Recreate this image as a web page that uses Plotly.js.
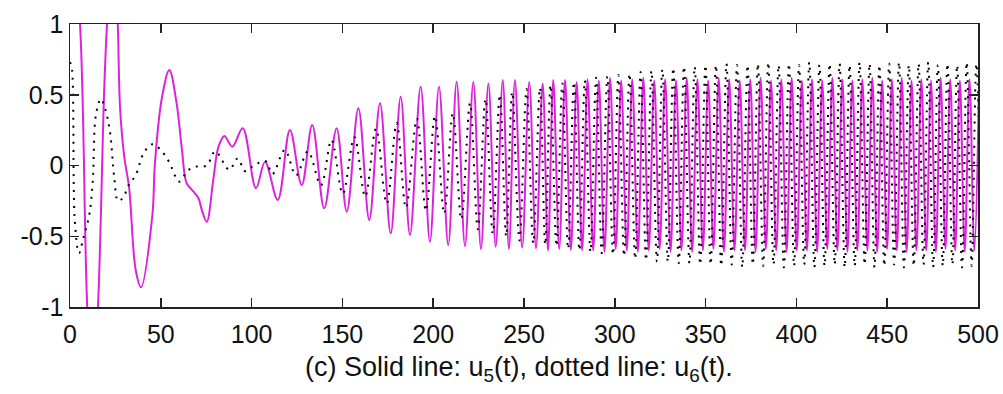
<!DOCTYPE html>
<html>
<head>
<meta charset="utf-8">
<script src="https://cdn.plot.ly/plotly-3.0.1.min.js"></script>
<style>html,body{margin:0;padding:0;background:#fff;}#chart{width:1003px;height:394px;}</style>
</head>
<body>
<div id="chart"></div>
<script>
// ---- axis ticks ----
const xTickVals = [0, 50, 100, 150, 200, 250, 300, 350, 400, 450, 500];
const yTickVals = [-1, -0.5, 0, 0.5, 1];
const yTickText = ['-1', '-0.5', '0', '0.5', '1'];

// ---- u5(t), solid line: early part (read point by point) ----
const u5EarlyT = [0, 5.5, 9.5, 12.5, 15.4, 18.9, 20.4, 23.4, 26.0, 27.6,
  30.0, 32.5, 36.2, 39.1, 45.3, 46.8, 50.5, 54.7, 58.7, 61.5, 64.2,
  67.0, 70.7, 72.5, 75.3, 78.9, 81.7, 85.0, 89.4, 95.1, 102.4,
  107.4, 114.4, 121.1, 127.6, 133.4, 140.0, 146.8, 152.4, 158.8, 164.8,
  170.7, 176.6, 182.1, 187.2, 193.1, 198.2, 203.2, 208.3, 212.9, 217.5,
  222.1, 226.3, 230.4, 234.4, 238.3, 241.7, 245.0, 249.0, 252.9, 256.6,
  260.3, 263.2, 266.1, 269.4, 272.6, 275.8, 279.0, 282.0];
const u5EarlyV = [1.8, 1.0, -1.0, -1.6, -1.0, 0.56, 1.0, 1.55, 1.1, 0.4,
  0.05, -0.15, -0.74, -0.86, -0.36, 0.02, 0.47, 0.675, 0.44, 0.13, -0.125,
  -0.17, -0.23, -0.31, -0.397, -0.1, 0.13, 0.208, 0.133, 0.263, -0.161,
  0.027, -0.244, 0.251, -0.138, 0.286, -0.303, 0.263, -0.326, 0.404, -0.385,
  0.44, -0.479, 0.486, -0.491, 0.557, -0.538, 0.557, -0.562, 0.592, -0.57,
  0.59, -0.59, 0.58, -0.574, 0.605, -0.59, 0.605, -0.58, 0.59, -0.585,
  0.58, -0.6, 0.605, -0.59, 0.605, -0.597, 0.59, -0.6];

// ---- u5(t): dense part, peaks and troughs ----
const u5PeakT = [285.0, 291.2, 297.4, 303.5, 309.6, 315.7, 321.7, 327.7, 333.7, 339.6,
  345.5, 351.4, 357.2, 363.0, 368.8, 374.6, 380.3, 386.0, 391.7, 397.4,
  403.0, 408.6, 414.2, 419.8, 425.3, 430.8, 436.3, 441.8, 447.2, 452.6,
  458.0, 463.4, 468.8, 474.1, 479.4, 484.7, 490.0, 495.3, 500.6];
const u5PeakV = [0.61, 0.6, 0.62, 0.6, 0.61, 0.62, 0.6, 0.61, 0.6, 0.62,
  0.61, 0.6, 0.62, 0.61, 0.6, 0.61, 0.62, 0.6, 0.61, 0.62,
  0.6, 0.61, 0.6, 0.62, 0.61, 0.6, 0.61, 0.62, 0.6, 0.61,
  0.62, 0.6, 0.61, 0.6, 0.62, 0.61, 0.6, 0.61, 0.6];
const u5TroughT = [288.1, 294.3, 300.5, 306.6, 312.7, 318.7, 324.7, 330.7, 336.7, 342.6,
  348.5, 354.3, 360.1, 365.9, 371.7, 377.5, 383.2, 388.9, 394.6, 400.2,
  405.8, 411.4, 417.0, 422.6, 428.1, 433.6, 439.1, 444.5, 449.9, 455.3,
  460.7, 466.1, 471.5, 476.8, 482.1, 487.4, 492.7, 498.0];
const u5TroughV = [-0.6, -0.61, -0.59, -0.6, -0.61, -0.6, -0.59, -0.61, -0.6, -0.61,
  -0.6, -0.59, -0.61, -0.6, -0.6, -0.61, -0.59, -0.6, -0.61, -0.6,
  -0.6, -0.61, -0.59, -0.6, -0.61, -0.6, -0.6, -0.61, -0.59, -0.6,
  -0.61, -0.6, -0.6, -0.61, -0.59, -0.6, -0.61, -0.6];

// ---- u6(t), dotted line: early part ----
const u6EarlyT = [0, 0.9, 2.7, 5.0, 7.3, 10.5, 12.5, 14.3, 17.0, 19.3,
  22.0, 24.4, 26.5, 29.4, 32.1, 36.2, 40.8, 45.5, 49.9, 54.5,
  60.2, 64.8, 69.4, 75.3, 80.0, 87.7, 92.3, 96.5, 101.8, 107.8,
  111.5, 118.3, 124.5, 131.0, 138.2, 144.0, 150.2, 156.6, 162.6, 168.5,
  174.4, 179.9, 185.0, 191.0, 196.0, 201.0, 206.1, 210.8, 215.5, 220.3,
  224.6, 228.8, 232.8, 236.7, 240.2, 243.5, 247.5, 251.4, 255.1, 258.8,
  261.7, 264.6, 267.9, 271.1, 274.3, 277.5, 280.5, 283.5];
const u6EarlyV = [0.73, 0.70, -0.40, -0.62, -0.515, -0.357, -0.12, 0.36, 0.47, 0.404,
  0.239, -0.09, -0.25, -0.225, -0.143, -0.067, 0.093, 0.15, 0.11, 0.027,
  -0.114, -0.036, -0.008, 0.0, 0.10, -0.03, 0.05, -0.04, 0.005, 0.03,
  -0.06, 0.11, -0.07, 0.10, -0.14, 0.18, -0.20, 0.20, -0.22, 0.26,
  -0.27, 0.30, -0.30, 0.33, -0.32, 0.35, -0.34, 0.37, -0.38, 0.44,
  -0.45, 0.47, -0.48, 0.50, -0.50, 0.52, -0.53, 0.54, -0.55, 0.55,
  -0.56, 0.57, -0.57, 0.58, -0.59, 0.59, -0.60, 0.60];

// ---- u6(t): dense part, peaks and troughs ----
const u6PeakT = [289.7, 295.9, 302.0, 308.1, 314.2, 320.2, 326.2, 332.2, 338.1, 344.0,
  349.9, 355.7, 361.5, 367.3, 373.1, 378.8, 384.5, 390.2, 395.9, 401.5,
  407.1, 412.7, 418.3, 423.8, 429.3, 434.8, 440.3, 445.7, 451.1, 456.5,
  461.9, 467.3, 472.6, 477.9, 483.2, 488.5, 493.8, 499.1];
const u6PeakV = [0.62, 0.63, 0.64, 0.65, 0.66, 0.67, 0.68, 0.69, 0.7, 0.7,
  0.71, 0.71, 0.72, 0.71, 0.71, 0.72, 0.73, 0.71, 0.72, 0.71,
  0.73, 0.71, 0.72, 0.72, 0.71, 0.73, 0.72, 0.71, 0.72, 0.73,
  0.71, 0.72, 0.73, 0.71, 0.72, 0.71, 0.73, 0.72];
const u6TroughT = [286.6, 292.8, 299.0, 305.1, 311.2, 317.2, 323.2, 329.2, 335.2, 341.1,
  347.0, 352.8, 358.6, 364.4, 370.2, 376.0, 381.7, 387.4, 393.1, 398.7,
  404.3, 409.9, 415.5, 421.1, 426.6, 432.1, 437.6, 443.0, 448.4, 453.8,
  459.2, 464.6, 470.0, 475.3, 480.6, 485.9, 491.2, 496.5, 502.2];
const u6TroughV = [-0.61, -0.62, -0.63, -0.64, -0.66, -0.67, -0.68, -0.68, -0.69, -0.69,
  -0.7, -0.7, -0.71, -0.7, -0.72, -0.7, -0.71, -0.7, -0.72, -0.71,
  -0.7, -0.72, -0.71, -0.7, -0.72, -0.71, -0.7, -0.72, -0.71, -0.7,
  -0.72, -0.71, -0.7, -0.72, -0.71, -0.7, -0.72, -0.71, -0.7];

// merge read points into one time-ordered series
function merge(groups) {
  const pts = [];
  groups.forEach(([ts, vs]) => {
    const n = Math.min(ts.length, vs.length);
    for (let i = 0; i < n; i++) pts.push([ts[i], vs[i]]);
  });
  pts.sort((a, b) => a[0] - b[0]);
  return { x: pts.map(p => p[0]), y: pts.map(p => p[1]) };
}
const s5 = merge([[u5EarlyT, u5EarlyV], [u5PeakT, u5PeakV], [u5TroughT, u5TroughV]]);
const s6 = merge([[u6EarlyT, u6EarlyV], [u6PeakT, u6PeakV], [u6TroughT, u6TroughV]]);

const fontFam = '"Liberation Sans Narrow", "Arial Narrow", "Liberation Sans", Arial, sans-serif';
const tickFont = { family: fontFam, size: 25, color: '#111' };

const traces = [
  { x: s5.x, y: s5.y, type: 'scatter', mode: 'lines', name: 'u5',
    line: { color: '#dd22dd', width: 2, shape: 'spline', smoothing: 1 }, hoverinfo: 'skip' },
  { x: s6.x, y: s6.y, type: 'scatter', mode: 'lines', name: 'u6',
    line: { color: '#000000', width: 2, dash: '2px,6px', shape: 'spline', smoothing: 1 }, hoverinfo: 'skip' }
];

const axisCommon = {
  showline: true, mirror: 'ticks', ticks: 'inside', ticklen: 9, tickwidth: 1.5,
  linewidth: 1.5, linecolor: '#222', tickcolor: '#222', showgrid: false, zeroline: false,
  tickfont: tickFont, ticklabeloverflow: 'allow'
};

const layout = {
  width: 1003, height: 394,
  margin: { l: 70, r: 25, t: 24, b: 87 },
  paper_bgcolor: '#ffffff', plot_bgcolor: '#ffffff',
  showlegend: false,
  xaxis: Object.assign({}, axisCommon, { range: [0, 500], tickvals: xTickVals, ticktext: xTickVals.map(String), ticklabelstandoff: 4 }),
  yaxis: Object.assign({}, axisCommon, { range: [-1, 1], tickvals: yTickVals, ticktext: yTickText }),
  annotations: [{
    xref: 'paper', yref: 'paper', x: 0.495, y: -0.219, xanchor: 'center', yanchor: 'middle',
    showarrow: false,
    text: '(c) Solid line: u<sub>5</sub>(t), dotted line: u<sub>6</sub>(t).',
    font: { family: fontFam, size: 27, color: '#111' }
  }]
};

Plotly.newPlot('chart', traces, layout, { staticPlot: true, displayModeBar: false });
</script>
</body>
</html>
